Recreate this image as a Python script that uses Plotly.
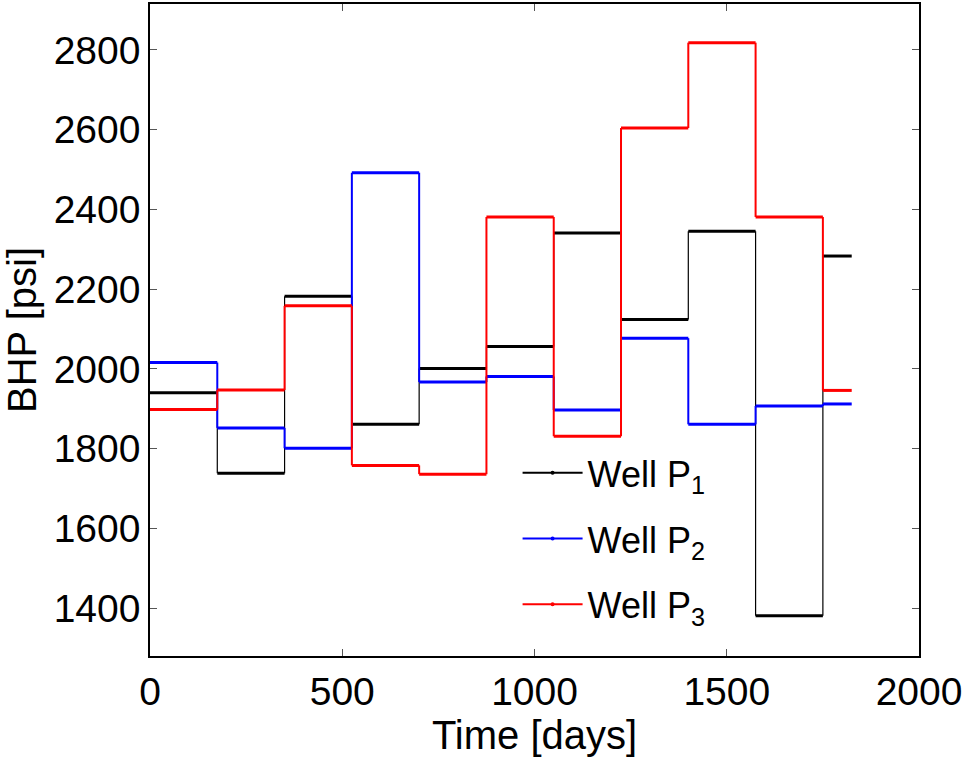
import plotly.graph_objects as go

# Control step boundaries (days)
days = [0, 175, 350, 525, 700, 875, 1050, 1225, 1400, 1575, 1750, 1825]
# Bottom-hole pressure per control step (psi)
p1 = [1940, 1738, 2182, 1861, 2001, 2056, 2341, 2124, 2345, 1381, 2283]
p2 = [2016, 1852, 1801, 2492, 1967, 1981, 1897, 2077, 1861, 1907, 1912]
p3 = [1898, 1947, 2158, 1758, 1736, 2381, 1831, 2604, 2818, 2381, 1946]

names = ["Well P<sub>1</sub>", "Well P<sub>2</sub>", "Well P<sub>3</sub>"]
colors = ["#000000", "#0000ff", "#ff0000"]
vwidths = [1.2, 2.0, 2.0]
series = [p1, p2, p3]

FONT = "Liberation Sans, Arial, Helvetica, sans-serif"

fig = go.Figure()

for vals, col, vw, nm in zip(series, colors, vwidths, names):
    # vertical connectors
    vx, vy = [], []
    for i in range(1, len(vals)):
        vx += [days[i], days[i], None]
        vy += [vals[i - 1], vals[i], None]
    fig.add_trace(go.Scatter(x=vx, y=vy, mode="lines", line=dict(color=col, width=vw),
                             showlegend=False, hoverinfo="skip"))
    # horizontal steps
    hx, hy = [], []
    for i, v in enumerate(vals):
        hx += [days[i], days[i + 1], None]
        hy += [v, v, None]
    fig.add_trace(go.Scatter(x=hx, y=hy, mode="lines", line=dict(color=col, width=3),
                             showlegend=False, hoverinfo="skip"))

for i, (col, nm) in enumerate(zip(colors, names)):
    fig.add_trace(go.Scatter(x=[None], y=[None], mode="lines+markers", name=nm,
                             legendgroup=f"g{i}",
                             line=dict(color=col, width=2),
                             marker=dict(color=col, size=4)))

axis_common = dict(
    showline=True, linecolor="#000000", linewidth=1.5, mirror="ticks",
    ticks="inside", ticklen=7, tickcolor="#555555", tickwidth=1,
    showgrid=False, zeroline=False,
    tickfont=dict(family=FONT, size=39, color="#000000"),
)

fig.update_layout(
    width=980, height=769,
    margin=dict(l=150, r=61, t=2, b=113),
    paper_bgcolor="#ffffff", plot_bgcolor="#ffffff",
    font=dict(family=FONT, color="#000000"),
    xaxis=dict(range=[0, 2000], tickvals=[0, 500, 1000, 1500, 2000],
               title=dict(text="Time [days]", font=dict(family=FONT, size=40), standoff=0),
               **axis_common),
    yaxis=dict(range=[1280, 2915], tickvals=[1400, 1600, 1800, 2000, 2200, 2400, 2600, 2800],
               title=dict(text="BHP [psi]", font=dict(family=FONT, size=40), standoff=10),
               **axis_common),
    legend=dict(x=0.478, y=0.327, xanchor="left", yanchor="top",
                font=dict(family=FONT, size=36, color="#000000"),
                bgcolor="rgba(0,0,0,0)", borderwidth=0, itemwidth=60,
                traceorder="grouped", tracegroupgap=16),
)

fig.write_html("out.html")
